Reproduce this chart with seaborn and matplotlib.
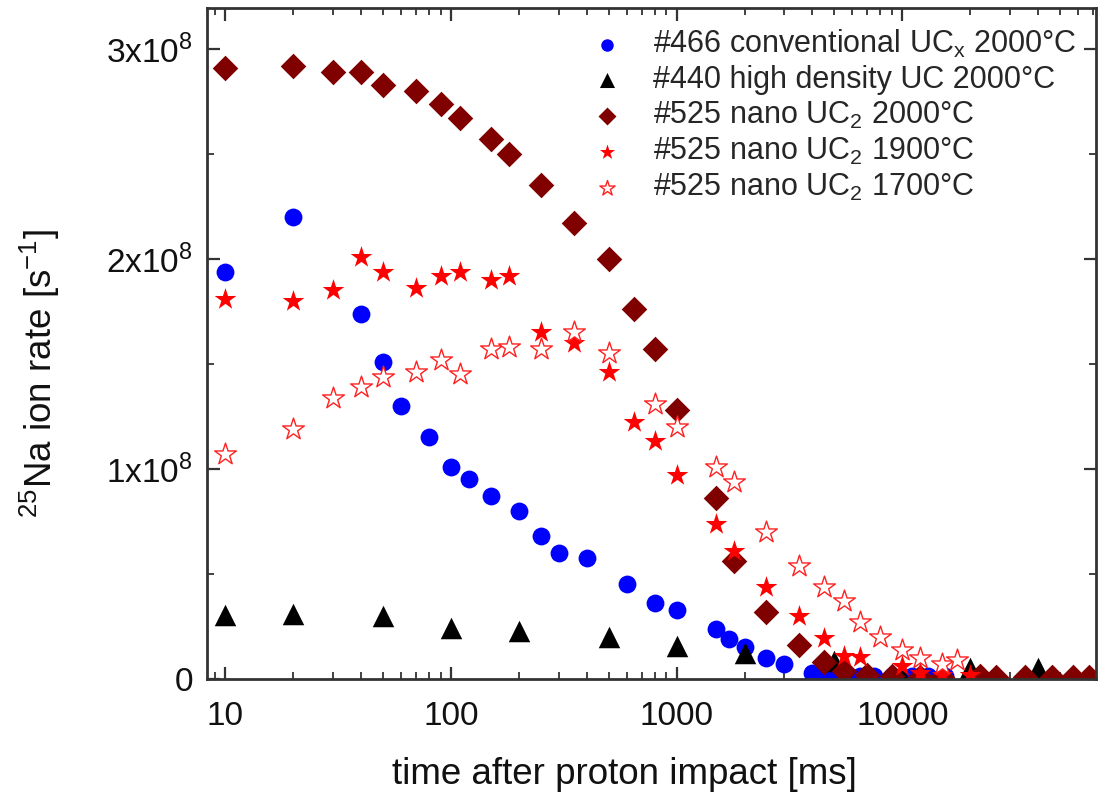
import matplotlib
matplotlib.use('Agg')
import matplotlib.pyplot as plt
import matplotlib.ticker as mticker
import seaborn as sns
import pandas as pd

# time after proton impact [ms] and 25Na ion rate [1e8 1/s]
t_466 = [10, 20, 40, 50, 60, 80, 100, 120, 150, 200, 250, 300, 400, 600, 800, 1000,
         1500, 1700, 2000, 2500, 3000, 4000, 4500, 5000, 5500, 6500, 7500, 9000,
         11000, 13000, 15500]
r_466 = [1.94, 2.20, 1.74, 1.51, 1.30, 1.15, 1.01, 0.95, 0.87, 0.80, 0.68, 0.60, 0.575,
         0.45, 0.36, 0.33, 0.24, 0.19, 0.15, 0.10, 0.07, 0.03, 0.02, 0.02, 0.015, 0.015,
         0.015, 0.015, 0.015, 0.015, 0.015]

t_440 = [10, 20, 50, 100, 200, 500, 1000, 2000, 5000, 10000, 20000, 40000]
r_440 = [0.305, 0.31, 0.30, 0.245, 0.23, 0.20, 0.155, 0.125, 0.085, 0.01, 0.05, 0.05]

t_525_2000 = [10, 20, 30, 40, 50, 70, 90, 110, 150, 180, 250, 350, 500, 650, 800, 1000,
              1500, 1800, 2500, 3500, 4500, 5500, 7000, 9000, 12000, 15000, 22000, 26000,
              35000, 46000, 57000, 67000]
r_525_2000 = [2.91, 2.92, 2.89, 2.89, 2.83, 2.80, 2.74, 2.67, 2.57, 2.50, 2.35, 2.17, 2.00,
              1.76, 1.57, 1.28, 0.86, 0.56, 0.32, 0.16, 0.08, 0.04, 0.02, 0.015, 0.01, 0.01,
              0.015, 0.01, 0.01, 0.01, 0.01, 0.01]

t_525_1900 = [10, 20, 30, 40, 50, 70, 90, 110, 150, 180, 250, 350, 500, 650, 800, 1000,
              1500, 1800, 2500, 3500, 4500, 5500, 6500, 10000, 12000, 15000, 20000]
r_525_1900 = [1.81, 1.80, 1.85, 2.01, 1.94, 1.86, 1.92, 1.94, 1.90, 1.92, 1.65, 1.60, 1.46,
              1.225, 1.135, 0.97, 0.74, 0.61, 0.44, 0.30, 0.195, 0.11, 0.105, 0.06, 0.03,
              0.02, 0.02]

t_525_1700 = [10, 20, 30, 40, 50, 70, 90, 110, 150, 180, 250, 350, 500, 800, 1000, 1500,
              1800, 2500, 3500, 4500, 5500, 6500, 8000, 10000, 12000, 15000, 17500]
r_525_1700 = [1.07, 1.19, 1.34, 1.39, 1.44, 1.46, 1.52, 1.45, 1.57, 1.58, 1.57, 1.65, 1.55,
              1.31, 1.20, 1.01, 0.94, 0.70, 0.54, 0.44, 0.37, 0.27, 0.20, 0.14, 0.10, 0.07,
              0.09]

labels = [
    r'#466 conventional UC$_\mathregular{x}$ 2000°C',
    '#440 high density UC 2000°C',
    r'#525 nano UC$_\mathregular{2}$ 2000°C',
    r'#525 nano UC$_\mathregular{2}$ 1900°C',
    r'#525 nano UC$_\mathregular{2}$ 1700°C',
]

sns.set_theme(style='ticks')
plt.rcParams['font.family'] = ['Liberation Sans', 'DejaVu Sans']
plt.rcParams['mathtext.fontset'] = 'custom'
plt.rcParams['mathtext.rm'] = 'Liberation Sans'

fig = plt.figure(figsize=(10.98, 8.02), dpi=100)
ax = fig.add_axes([0.1885, 0.1534, 0.8095, 0.8366])

series = [
    (t_466, r_466, 'o', '#0000ff', '#0000ff', 165),
    (t_440, r_440, '^', 'black', 'black', 240),
    (t_525_2000, r_525_2000, 'D', '#800000', '#800000', 170),
    (t_525_1900, r_525_1900, '*', '#ff0000', '#ff0000', 270),
    (t_525_1700, r_525_1700, '*', 'white', '#ff2020', 270),
]
for (t, r, mk, fc, ec, s), lab in zip(series, labels):
    df = pd.DataFrame({'t': t, 'rate': [v * 1e8 for v in r]})
    sns.scatterplot(data=df, x='t', y='rate', marker=mk, color=fc, edgecolor=ec,
                    linewidth=1.0 if fc == 'white' else 0, s=s, label=lab, ax=ax)

ax.set_xscale('log')
ax.set_xlim(8.3, 72000)
ax.set_ylim(0, 3.195e8)
ax.xaxis.set_major_locator(mticker.FixedLocator([10, 100, 1000, 10000]))
ax.xaxis.set_major_formatter(mticker.FixedFormatter(['10', '100', '1000', '10000']))
ax.xaxis.set_minor_locator(mticker.LogLocator(base=10, subs=range(2, 10), numticks=20))
ax.xaxis.set_minor_formatter(mticker.NullFormatter())
ax.yaxis.set_major_locator(mticker.FixedLocator([0, 1e8, 2e8, 3e8]))
ax.yaxis.set_major_formatter(mticker.FixedFormatter(
    ['0', r'1x10$^\mathregular{8}$', r'2x10$^\mathregular{8}$', r'3x10$^\mathregular{8}$']))
ax.yaxis.set_minor_locator(mticker.MultipleLocator(0.5e8))

ax.tick_params(which='both', direction='in', top=True, right=True, colors='#333333',
               labelcolor='#111111', labelsize=24)
ax.tick_params(which='major', length=9, width=1.6)
ax.tick_params(which='minor', length=5, width=1.3)
ax.tick_params(axis='x', which='major', pad=16)
ax.tick_params(axis='y', which='major', pad=10)
for sp in ax.spines.values():
    sp.set_linewidth(2)
    sp.set_color('#333333')

ax.set_xlabel('time after proton impact [ms]', fontsize=26.5, color='#111111')
ax.set_ylabel(r'$^\mathregular{25}$Na ion rate [s$^\mathregular{-1}$]', fontsize=26.5,
              color='#111111')
ax.xaxis.set_label_coords(0.470, -0.116)
ax.yaxis.set_label_coords(-0.163, 0.455)

leg = ax.legend(loc='upper right', frameon=False, fontsize=22, handletextpad=1.0,
                labelspacing=0.16, borderaxespad=0.35, borderpad=0.3, handlelength=1.0,
                markerscale=0.7, bbox_to_anchor=(1.0, 1.0))

fig.savefig('out.png', dpi=100, facecolor='white')
